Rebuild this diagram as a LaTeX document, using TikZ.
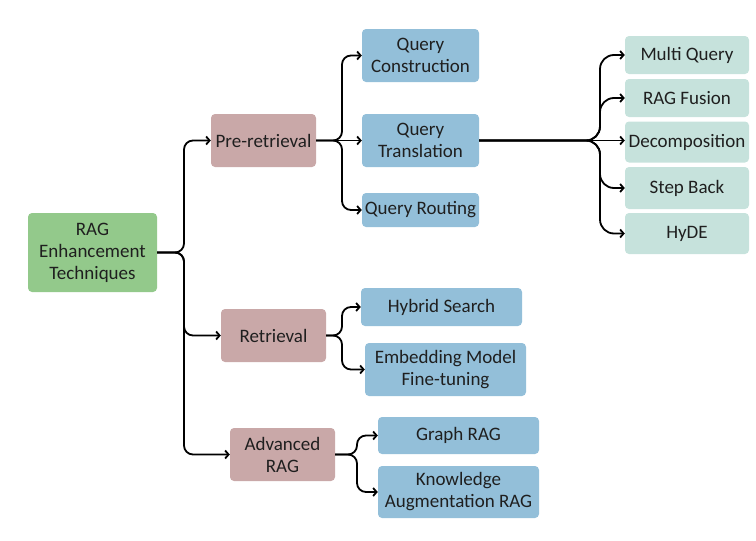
\documentclass[tikz,border=0pt]{standalone}
\usepackage{fontspec}
\setmainfont{Carlito}
\usetikzlibrary{arrows.meta}
\definecolor{rootgreen}{HTML}{93C98B}
\definecolor{pinkc}{HTML}{C9A8A8}
\definecolor{bluec}{HTML}{93BFD9}
\definecolor{leafc}{HTML}{C6E2DC}
\begin{document}
\begin{tikzpicture}[x=1pt,y=-1pt,
  box/.style={rectangle, rounded corners=4pt, inner sep=0pt, align=center,
    font=\fontsize{19}{22}\selectfont, text=black!88},
  rootbox/.style={box, fill=rootgreen},
  pinkbox/.style={box, fill=pinkc},
  bluebox/.style={box, fill=bluec},
  leafbox/.style={box, fill=leafc},
  conn/.style={line width=1.8pt, -{Straight Barb[length=3.5pt,width=8pt]}, rounded corners=9pt}]
\useasboundingbox (0,0) rectangle (756,541);

% nodes
\node[rootbox, minimum width=129, minimum height=79] (root) at (92.5,252.5) {RAG\\Enhancement\\Techniques};
\node[pinkbox, minimum width=105, minimum height=53] (pre) at (263.5,140.5) {Pre-retrieval};
\node[pinkbox, minimum width=105, minimum height=53] (ret) at (273.5,335.5) {Retrieval};
\node[pinkbox, minimum width=105, minimum height=53] (adv) at (282.5,454.5) {Advanced\\RAG};

\node[bluebox, minimum width=117, minimum height=53] (qc) at (420.5,55.5) {Query\\Construction};
\node[bluebox, minimum width=117, minimum height=53] (qt) at (420.5,140.5) {Query\\Translation};
\node[bluebox, minimum width=117, minimum height=34] (qr) at (420.5,210) {Query Routing};

\node[bluebox, minimum width=161, minimum height=38] (hs) at (441.5,307) {Hybrid Search};
\node[bluebox, minimum width=161, minimum height=53] (em) at (445.5,369.5) {Embedding Model\\Fine-tuning};
\node[bluebox, minimum width=161, minimum height=37] (gr) at (458.5,435.5) {Graph RAG};
\node[bluebox, minimum width=161, minimum height=52] (ka) at (458.5,492) {Knowledge\\Augmentation RAG};

\node[leafbox, minimum width=124, minimum height=38] (mq) at (687,55) {Multi Query};
\node[leafbox, minimum width=124, minimum height=38] (rf) at (687,98) {RAG Fusion};
\node[leafbox, minimum width=124, minimum height=41] (dc) at (687,142) {Decomposition};
\node[leafbox, minimum width=124, minimum height=42] (sb) at (687,188) {Step Back};
\node[leafbox, minimum width=124, minimum height=41] (hy) at (687,233.5) {HyDE};

% trunk coordinates
\coordinate (t0) at (184,252.5);
\coordinate (t1) at (342,140.5);
\coordinate (t2) at (600,140.5);
\coordinate (t3) at (342,335.5);
\coordinate (t4) at (357,454.5);

% connectors
\draw[conn] (root.east) -- (t0) |- (pre.west);
\draw[conn] (root.east) -- (t0) |- (ret.west);
\draw[conn] (root.east) -- (t0) |- (adv.west);

\draw[conn] (pre.east) -- (t1) |- (qc.west);
\draw[conn] (pre.east) -- (qt.west);
\draw[conn] (pre.east) -- (t1) |- (qr.west);

\draw[conn, rounded corners=14pt] (qt.east) -- (t2) |- (mq.west);
\draw[conn, rounded corners=14pt] (qt.east) -- (t2) |- (rf.west);
\draw[conn] (qt.east) -- (dc.west |- qt.east);
\draw[conn, rounded corners=14pt] (qt.east) -- (t2) |- (sb.west);
\draw[conn, rounded corners=14pt] (qt.east) -- (t2) |- (hy.west);

\draw[conn] (ret.east) -- (t3) |- (hs.west);
\draw[conn] (ret.east) -- (t3) |- (em.west);

\draw[conn] (adv.east) -- (t4) |- (gr.west);
\draw[conn] (adv.east) -- (t4) |- (ka.west);
\end{tikzpicture}
\end{document}
